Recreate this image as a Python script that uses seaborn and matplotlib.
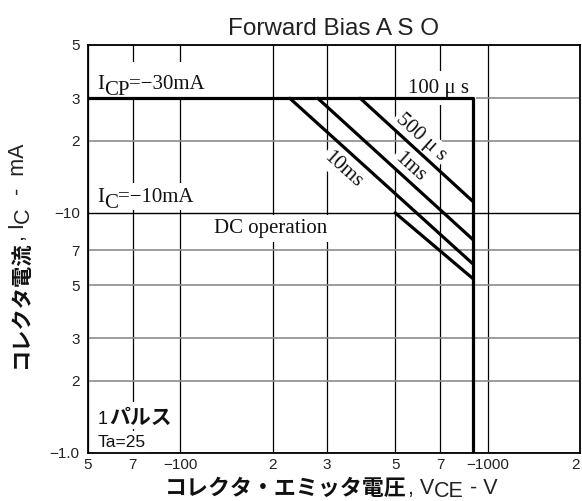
import matplotlib
matplotlib.use("Agg")
import matplotlib.pyplot as plt
from matplotlib.patches import Rectangle
import pandas as pd
import seaborn as sns

# values (|V_CE| in V, |I_C| in mA)
boundary_v = [50, 900, 900]
boundary_i = [30, 30, 1]
pulse500_v = [385, 900]
pulse500_i = [30, 11.1]
pulse1ms_v = [280, 900]
pulse1ms_i = [30, 7.7]
pulse10ms_v = [227, 900]
pulse10ms_i = [30, 6.1]
dc_v = [500, 900]
dc_i = [10, 5.3]

x_ticks = [50, 70, 100, 200, 300, 500, 700, 1000, 2000]
x_labels = ["5", "7", "−100", "2", "3", "5", "7", "−1000", "2"]
y_ticks = [1, 2, 3, 5, 7, 10, 20, 30, 50]
y_labels = ["−1.0", "2", "3", "5", "7", "−10", "2", "3", "5"]

curves = {
    "100us": (boundary_v, boundary_i),
    "500us": (pulse500_v, pulse500_i),
    "1ms": (pulse1ms_v, pulse1ms_i),
    "10ms": (pulse10ms_v, pulse10ms_i),
    "dc": (dc_v, dc_i),
}
df = pd.concat([pd.DataFrame({"v": v, "i": i, "curve": name})
                for name, (v, i) in curves.items()], ignore_index=True)

SERIF = "Liberation Serif"
SANS = "Liberation Sans"
JP = "Noto Sans CJK JP"

sns.set_theme(style="white")
plt.rcParams["font.family"] = [SANS, JP]

fig = plt.figure(figsize=(5.82, 5.01), dpi=100)
ax = fig.add_axes([88 / 582, 48 / 501, 492 / 582, 408 / 501])

sns.lineplot(data=df, x="v", y="i", units="curve", estimator=None, sort=False,
             color="black", linewidth=2.3, legend=False, ax=ax, zorder=4)

ax.set_xscale("log")
ax.set_yscale("log")
ax.set_xlim(50, 2000)
ax.set_ylim(1, 50)
ax.set_xticks(x_ticks)
ax.set_xticklabels(x_labels)
ax.set_yticks(y_ticks)
ax.set_yticklabels(y_labels)
ax.minorticks_off()
ax.tick_params(length=0, labelsize=11, labelcolor="#222222")
ax.tick_params(axis="x", pad=3.5)
ax.tick_params(axis="y", pad=6)
ax.get_xticklabels()[-1].set_horizontalalignment("right")
ax.set_xlabel("")
ax.set_ylabel("")

ax.grid(True, axis="x", color="black", linewidth=0.9)
ax.grid(True, axis="y", color="#8c8c8c", linewidth=1.2)
for val, gl in zip(y_ticks, ax.get_ygridlines()):
    if val == 10:
        gl.set_color("black")
        gl.set_linewidth(1.0)

for sp in ax.spines.values():
    sp.set_color("black")
    sp.set_linewidth(1.3)
    sp.set_zorder(5)

ax.set_title("Forward Bias A S O", fontsize=17.5, family=SANS, pad=7, color="#222222")


def box(pad):
    return dict(boxstyle=f"square,pad={pad}", fc="white", ec="none")


def after(prev, s, dx=0.0, dy=0.0, **kw):
    return ax.annotate(s, xy=(1, 0), xycoords=prev, xytext=(dx, dy),
                       textcoords="offset points", ha="left", va="bottom", **kw)


def above(prev, s, dx=0.0, dy=0.0, **kw):
    return ax.annotate(s, xy=(1, 1), xycoords=prev, xytext=(dx, dy),
                       textcoords="offset points", ha="right", va="bottom",
                       rotation=90, **kw)


# white patches behind multi-piece labels (axes fractions)
for x0, y0, w, h in [(0.010, 0.873, 0.245, 0.085), (0.010, 0.595, 0.222, 0.066),
                     (0.010, 0.060, 0.165, 0.065)]:
    ax.add_patch(Rectangle((x0, y0), w, h, transform=ax.transAxes, fc="white",
                           ec="none", zorder=2.9))

ser = dict(family=SERIF, size=15, color="#111111", zorder=3)

# current limits
for yf, sub, val in [(0.892, "CP", "=−30mA"), (0.616, "C", "=−10mA")]:
    t = ax.text(0.018, yf, "I", transform=ax.transAxes, va="baseline", **ser)
    t = after(t, sub, dy=-4.3, **ser)
    after(t, val, dy=4.3, **ser)

ax.text(0.256, 0.539, "DC operation", transform=ax.transAxes, va="baseline",
        bbox=box(0.2), **ser)
ax.text(0.650, 0.883, "100 μ s", transform=ax.transAxes, va="baseline",
        bbox=box(0.35), **ser)

for s, xf, yf in [("500 μ s", 0.676, 0.773), ("1ms", 0.654, 0.701), ("10ms", 0.518, 0.694)]:
    ax.text(xf, yf, s, transform=ax.transAxes, rotation=-42, ha="center", va="center",
            rotation_mode="anchor", bbox=box(0.1), **ser)

# conditions
t = ax.text(0.02, 0.071, "1", transform=ax.transAxes, va="baseline", family=SANS,
            size=13, color="#111111", zorder=3)
after(t, "パルス", dx=1, family=JP, weight="bold", size=15, color="#111111", zorder=3)
ax.text(0.02, 0.015, "Ta=25", transform=ax.transAxes, va="baseline", family=SANS,
        size=12.5, color="#111111", zorder=3, bbox=box(0.2))

# axis titles
lab = dict(family=SANS, size=15.5, color="#222222")
t = ax.text(0.1565, -0.088, "コレクタ・エミッタ電圧", transform=ax.transAxes, ha="left",
            va="center", family=JP, weight="bold", size=15.8, color="#111111")
t = after(t, ", V", dx=0.5, dy=1, **lab)
t = after(t, "CE", dy=-2.5, **lab)
after(t, " - V", dy=2.5, **lab)

t = ax.text(-0.138, 0.208, "コレクタ電流", transform=ax.transAxes, rotation=90,
            ha="center", va="bottom", family=JP, weight="bold", size=15.3, color="#111111")
t = above(t, ", I", dx=-1, **lab)
t = above(t, "C", dx=3, **lab)
above(t, "  -  mA", dx=-3, **lab)

fig.savefig("out.png", dpi=100)
